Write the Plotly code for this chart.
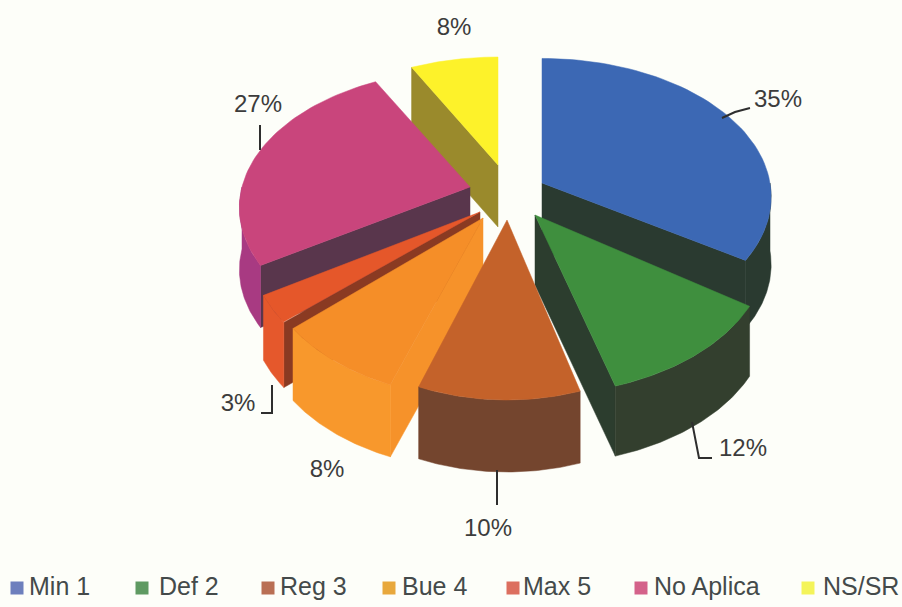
import math
import plotly.graph_objects as go

categories = ["Min 1", "Def 2", "Reg 3", "Bue 4", "Max 5", "No Aplica", "NS/SR"]
values = [35, 12, 10, 8, 3, 27, 8]
labels = ["35%", "12%", "10%", "8%", "3%", "27%", "8%"]

# slice styling / layout (pixels)
top_col = ["#3c68b4", "#3f8f3e", "#c4622a", "#f58e28", "#e5572a", "#c9457c", "#fdf22a"]
arc_col = ["#2a3a30", "#333f2e", "#74452e", "#f8982c", "#e5582c", "#a83a82", "#fdf22a"]
end_col = ["#2a3a30", "#2c3d2e", "#74452e", "#8f4b28", "#8a3a22", "#59364c", "#9a8a2c"]
start_col = ["#2a3a30", "#2c3d2e", "#74452e", "#f6922a", "#8a3a22", "#59364c", "#9a8a2c"]
legend_col = ["#6d7fbd", "#5f9a62", "#b96f54", "#e8a83c", "#dc6f5f", "#d4628a", "#f4f45a"]
apex = [(542, 183), (535, 215), (507, 220), (483, 218), (480, 212), (470, 187), (498, 165)]
rx = [228, 225, 205, 215, 222, 228, 225]
ry = [137, 135, 135, 135, 135, 135, 135]
persp = [0.10, 0.25, 0.25, 0.25, 0.25, 0.15, 0.25]
depth = [68, 70, 72, 72, 65, 62, 62]
start_trim = [0, 3, 0, 0, 0, 0, 0]  # degrees
order = [6, 5, 0, 4, 3, 1, 2]

BG = "#fdfef9"
fig = go.Figure()
total = sum(values)
starts = [sum(values[:i]) / total * 2 * math.pi + math.radians(start_trim[i]) for i in range(len(values))]
ends = [sum(values[:i + 1]) / total * 2 * math.pi for i in range(len(values))]


def poly(pts, color):
    fig.add_trace(go.Scatter(x=[p[0] for p in pts] + [pts[0][0]], y=[p[1] for p in pts] + [pts[0][1]],
                             mode="lines", fill="toself", fillcolor=color,
                             line=dict(color=color, width=0.5), hoverinfo="skip", showlegend=False))


def pt(i, t):
    u, v = math.sin(t), -math.cos(t)
    f = 1 / (1 - persp[i] * v)
    return (apex[i][0] + rx[i] * u * f, apex[i][1] + ry[i] * v * f)


for i in order:
    n = 60
    s, e = starts[i], ends[i]
    arc = [pt(i, s + (e - s) * k / n) for k in range(n + 1)]
    d = depth[i]
    down = lambda p: (p[0], p[1] + d)
    a = apex[i]
    # only the walls that face the viewer are drawn
    if math.sin(s) < -1e-6:
        poly([a, arc[0], down(arc[0]), down(a)], start_col[i])
    if math.sin(e) > 1e-6:
        poly([a, arc[-1], down(arc[-1]), down(a)], end_col[i])
    s2, e2 = max(s, math.pi / 2), min(e, 3 * math.pi / 2)
    if e2 > s2:
        front = [pt(i, s2 + (e2 - s2) * k / n) for k in range(n + 1)]
        poly(front + [down(p) for p in reversed(front)], arc_col[i])
    poly([a] + arc, top_col[i])

# leader lines
leaders = [
    ([722, 735, 750], [118, 112, 108]),
    ([692, 699, 712], [422, 458, 458]),
    ([497, 497], [470, 505]),
    ([261, 272, 272], [413, 413, 385]),
    ([260, 260], [125, 150]),
]
for lx, ly in leaders:
    fig.add_trace(go.Scatter(x=lx, y=ly, mode="lines", line=dict(color="#2e2e2e", width=2),
                             hoverinfo="skip", showlegend=False))

label_x = [778, 743, 488, 327, 238, 258, 454]
label_y = [101, 450, 530, 471, 405, 106, 29]
FONT = "Liberation Sans, sans-serif"
fig.add_trace(go.Scatter(x=label_x, y=label_y, mode="text", text=labels,
                         textfont=dict(family=FONT, size=24, color="#3c3c3c"),
                         hoverinfo="skip", showlegend=False))

# legend
legend_x = [17, 142, 268, 389, 513, 641, 808]
legend_text_x = [29, 159, 280, 402, 523, 654, 823]
legend_y = [588] * 7
fig.add_trace(go.Scatter(x=legend_x, y=legend_y, mode="markers",
                         marker=dict(symbol="square", size=13, color=legend_col),
                         hoverinfo="skip", showlegend=False))
fig.add_trace(go.Scatter(x=legend_text_x, y=[y + 1 for y in legend_y], mode="text", text=categories,
                         textposition="middle right",
                         textfont=dict(family=FONT, size=25, color="#444a4a"),
                         hoverinfo="skip", showlegend=False))

fig.update_layout(
    width=902, height=607, margin=dict(l=0, r=0, t=0, b=0),
    paper_bgcolor=BG, plot_bgcolor=BG,
    xaxis=dict(range=[0, 902], visible=False, fixedrange=True),
    yaxis=dict(range=[607, 0], visible=False, fixedrange=True),
    showlegend=False,
)
fig.write_html("out.html", config={"displayModeBar": False},
               post_script="document.body.style.margin='0';document.body.style.overflow='hidden';")
